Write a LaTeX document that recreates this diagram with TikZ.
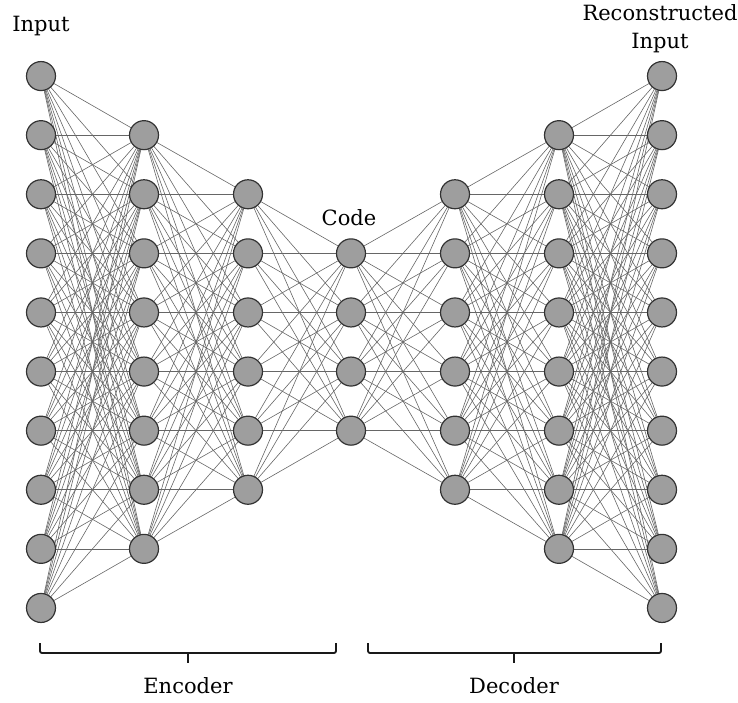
\documentclass[tikz,border=0pt]{standalone}
\usepackage{fontspec}
\setmainfont{DejaVu Serif}
\begin{document}
\begin{tikzpicture}[x=1pt,y=-1pt,
  neuron/.style={circle,draw=black!80,line width=1.2pt,fill=black!38,minimum size=29pt,inner sep=0pt},
  wire/.style={draw=black!60,line width=0.6pt},
  lbl/.style={font=\fontsize{21}{28}\selectfont,inner sep=0pt},
  bracket/.style={line width=1.8pt,draw=black!90,rounded corners=2pt}]
\useasboundingbox (0,0) rectangle (738,702);
\def\dy{59.1}
\foreach \l/\x/\n in {1/41/10,2/144/8,3/248/6,4/351/4,5/455/6,6/559/8,7/662/10}{
  \foreach \i in {1,...,\n}{
    \coordinate (n-\l-\i) at (\x,{342+(\i-(\n+1)/2)*\dy});
  }
}
% edges
\foreach \a/\na/\b/\nb in {1/10/2/8,2/8/3/6,3/6/4/4,4/4/5/6,5/6/6/8,6/8/7/10}{
  \foreach \i in {1,...,\na}{
    \foreach \j in {1,...,\nb}{
      \draw[wire] (n-\a-\i) -- (n-\b-\j);
    }
  }
}
% nodes on top
\foreach \l/\n in {1/10,2/8,3/6,4/4,5/6,6/8,7/10}{
  \foreach \i in {1,...,\n}{
    \node[neuron] (c-\l-\i) at (n-\l-\i) {};
  }
}
\node[lbl] (tin) at (41,26) {Input};
\node[lbl] (tcode) at (349,218) {Code};
\node[lbl,align=center] (tout) at (660,29) {Reconstructed\\Input};
\coordinate (e1) at (40,643);
\coordinate (e2) at (336,643);
\coordinate (d1) at (368,643);
\coordinate (d2) at (661,643);
\draw[bracket] (e1) -- ++(0,10) -- (188,653) -- (e2 |- 0,653) -- (e2);
\draw[line width=1.8pt,draw=black!90] (188,653) -- (188,663);
\draw[bracket] (d1) -- ++(0,10) -- (514,653) -- (d2 |- 0,653) -- (d2);
\draw[line width=1.8pt,draw=black!90] (514,653) -- (514,663);
\node[lbl] (tenc) at (188,686) {Encoder};
\node[lbl] (tdec) at (514,686) {Decoder};
\end{tikzpicture}
\end{document}
